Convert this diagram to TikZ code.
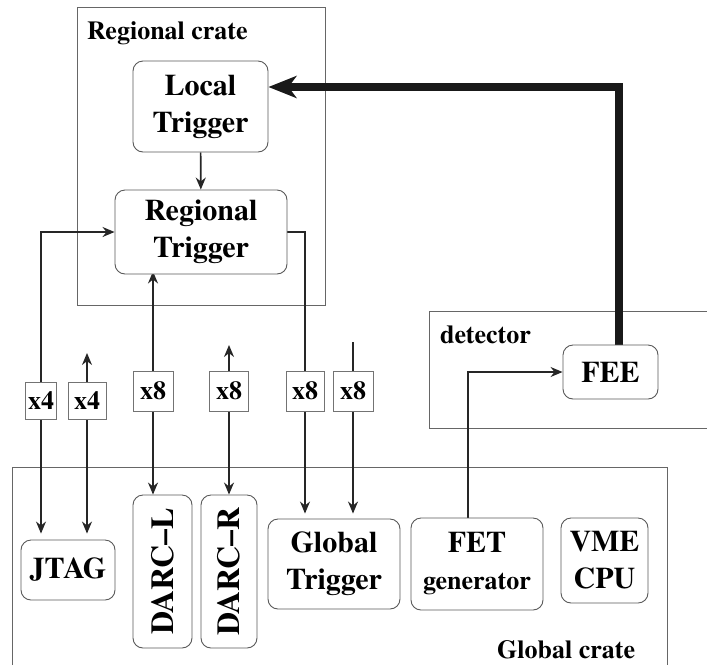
\documentclass[tikz,border=0pt]{standalone}
\usepackage{fontspec}
\setmainfont{texgyretermes}[Extension=.otf, UprightFont=*-regular, BoldFont=*-bold, ItalicFont=*-italic, BoldItalicFont=*-bolditalic]
\usepackage{graphicx}
\usetikzlibrary{arrows.meta,backgrounds}
\begin{document}
\begin{tikzpicture}[x=1pt,y=-1pt,
  >={Stealth[length=12pt,width=10pt]},
  blk/.style={draw=black!65,line width=0.9pt,rounded corners=10pt,fill=white,align=center,inner sep=0pt,font=\fontsize{30}{37}\selectfont\bfseries},
  mult/.style={draw=black!55,line width=0.8pt,fill=white,inner sep=0pt,font=\fontsize{26}{30}\selectfont\bfseries},
  crate/.style={draw=black!60,line width=0.8pt},
  lab/.style={font=\fontsize{26}{30}\selectfont\bfseries,inner sep=0pt,anchor=base west},
  conn/.style={draw=black!85,line width=1.6pt},
  thinconn/.style={draw=black!85,line width=1.2pt},
  bigarrow/.style={draw=black!90,line width=7.5pt,-{Stealth[length=28pt,width=22pt,inset=8pt]}}
]
\useasboundingbox (0,0) rectangle (707,665);

% blocks
\node[blk,minimum width=135pt,minimum height=91pt] (lt) at (200.5,106.5) {Local\\Trigger};
\node[blk,minimum width=172pt,minimum height=84pt] (rt) at (201,232) {Regional\\Trigger};
\node[blk,minimum width=94pt,minimum height=60pt] (jtag) at (68,570) {JTAG};
\node[blk,minimum width=59pt,minimum height=153pt] (dl) at (162.5,571.5) {\rotatebox{90}{\fontsize{32}{36}\selectfont DARC–L}};
\node[blk,minimum width=56pt,minimum height=153pt] (dr) at (229,571.5) {\rotatebox{90}{\fontsize{32}{36}\selectfont DARC–R}};
\node[blk,minimum width=132pt,minimum height=90pt] (gt) at (334,564) {Global\\Trigger};
\node[blk,minimum width=132pt,minimum height=92pt] (fet) at (477,564) {FET\\{\fontsize{26}{30}\selectfont generator}};
\node[blk,minimum width=87pt,minimum height=85pt] (vme) at (604.5,560.5) {VME\\CPU};
\node[blk,minimum width=95pt,minimum height=54pt] (fee) at (610.5,372) {FEE};

% multiplicity labels
\node[mult,minimum width=31pt,minimum height=37pt] (m1) at (41,400.5) {x4};
\node[mult,minimum width=38pt,minimum height=37pt] (m2) at (87,400.5) {x4};
\node[mult,minimum width=40pt,minimum height=40pt] (m3) at (153,391) {x8};
\node[mult,minimum width=39pt,minimum height=40pt] (m4) at (229,391) {x8};
\node[mult,minimum width=38pt,minimum height=40pt] (m5) at (305,391) {x8};
\node[mult,minimum width=40pt,minimum height=40pt] (m6) at (353,391) {x8};

% free ends
\coordinate (t2) at (87,353);
\coordinate (t4) at (229,345);
\coordinate (t6) at (353,342);

% crate labels
\node[lab] (rc) at (87,39) {Regional crate};
\node[lab] (det) at (440,343) {detector};
\node[lab] (gc) at (497,658) {Global crate};

\begin{pgfonlayer}{background}
  % crates
  \draw[crate] (77,7) rectangle (325,305);
  \draw[crate] (707,311) -- (429,311) -- (429,428) -- (707,428);
  \draw[crate] (12,665) -- (12,467) -- (667,467) -- (667,665);
  % connectors
  \draw[conn,<->,shorten <=6pt] (m1 |- jtag.north) |- (rt.west);
  \draw[conn,<->,shorten >=6pt] (t2) -- (t2 |- jtag.north);
  \draw[conn,<->,shorten <=-3pt] (m3 |- rt.south) -- (m3 |- dl.north);
  \draw[conn,<->] (t4) -- (t4 |- dr.north);
  \draw[thinconn,->,shorten >=5pt] (rt.east) -| (m5 |- gt.north);
  \draw[conn,->,shorten >=5pt] (t6) -- (t6 |- gt.north);
  \draw[thinconn,->] ([xshift=-9pt]fet.north) |- (fee.west);
  \draw[conn,->] (lt) -- (rt);
  \draw[bigarrow] ([xshift=8.5pt]fee.north) |- ([yshift=19.5pt]lt.east);
\end{pgfonlayer}
\end{tikzpicture}
\end{document}
